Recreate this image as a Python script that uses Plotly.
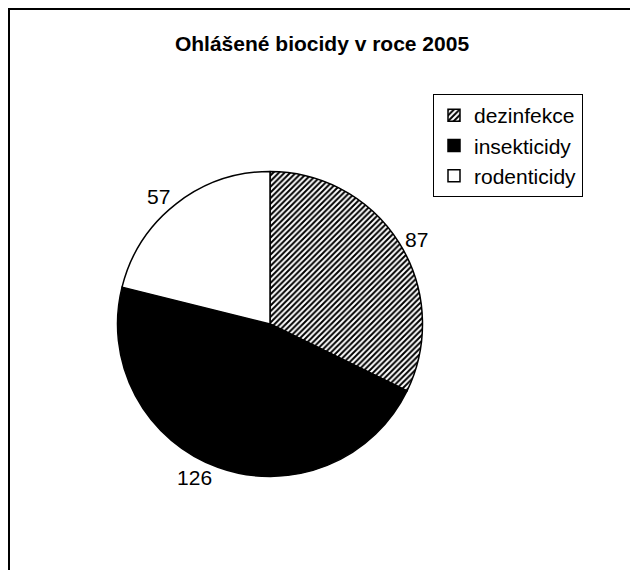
import plotly.graph_objects as go

labels = ["dezinfekce", "insekticidy", "rodenticidy"]
values = [87, 126, 57]
fills = ["white", "black", "white"]
patterns = ["/", "", ""]

# page has an 8px body margin, so the figure is 8px smaller than the window
W, H = 630, 562
FONT = "Liberation Sans, Arial, sans-serif"

fig = go.Figure(go.Pie(
    labels=labels, values=values, sort=False, direction="clockwise", rotation=0,
    marker=dict(colors=fills, line=dict(color="black", width=1.5),
                pattern=dict(shape=patterns, fgcolor="black", bgcolor="white",
                             size=4, solidity=0.5)),
    textinfo="value", textposition="outside",
    textfont=dict(family=FONT, size=21, color="black"),
    domain=dict(x=[109.5 / W, 414.5 / W], y=[93.5 / H, 398.5 / H]),
    hoverinfo="skip",
))
fig.update_layout(
    width=W, height=H, margin=dict(l=0, r=0, t=0, b=0),
    paper_bgcolor="white", plot_bgcolor="white",
    title=dict(text="<b>Ohlášené biocidy v roce 2005</b>", x=314 / W, xanchor="center",
               y=1 - 36 / H, yanchor="middle",
               font=dict(family=FONT, size=21, color="black")),
    legend=dict(x=425 / W, y=1 - 86 / H, xanchor="left", yanchor="top",
                bordercolor="black", borderwidth=1, bgcolor="white",
                font=dict(family=FONT, size=21, color="black")),
    shapes=[dict(type="rect", xref="paper", yref="paper",
                 x0=1 / W, x1=627 / W, y0=-0.1, y1=1 - 1 / H,
                 line=dict(color="black", width=2))],
)
fig.write_html("out.html")
